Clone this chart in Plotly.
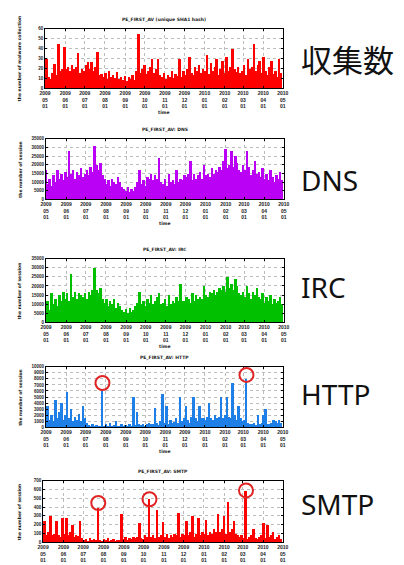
import plotly.graph_objects as go
import pandas as pd

# ---------------- data (one value every 3 days from 2009-05-01) ----------------
start_date = "2009-05-01"
step = "3D"

malware = [14, 30, 12, 10, 16, 25, 14, 45, 18, 20,
           42, 20, 22, 18, 24, 20, 22, 36, 16, 20,
           18, 24, 27, 20, 27, 18, 22, 37, 14, 15,
           12, 16, 10, 18, 12, 14, 11, 17, 10, 12,
           9, 13, 8, 12, 10, 14, 9, 18, 55, 16,
           20, 24, 15, 18, 22, 30, 16, 20, 30, 14,
           12, 16, 10, 14, 12, 18, 11, 15, 13, 30,
           12, 18, 14, 20, 32, 16, 14, 22, 18, 24,
           16, 20, 18, 34, 15, 26, 18, 22, 30, 14,
           20, 28, 16, 32, 18, 22, 40, 20, 17, 22,
           16, 18, 24, 14, 30, 20, 22, 45, 18, 24,
           28, 16, 32, 18, 14, 22, 28, 15, 18, 12,
           30, 16]

dns = [17000, 9000, 12000, 8000, 14000, 10000, 17000, 12000, 15000, 11000,
       16000, 13000, 28000, 15000, 17000, 12000, 16000, 14000, 18000, 13000,
       15000, 17000, 14000, 19000, 16000, 31000, 20000, 17000, 21000, 14000,
       12000, 9000, 11000, 8000, 12000, 10000, 9000, 13000, 10000, 7000,
       6000, 5000, 7000, 4500, 6000, 5000, 7000, 10000, 17000, 9000,
       11000, 8000, 13000, 12000, 15000, 11000, 14000, 12000, 24000, 10000,
       9000, 12000, 8000, 15000, 10000, 11000, 9000, 17000, 10000, 12000,
       11000, 14000, 13000, 15000, 22000, 11000, 15000, 12000, 14000, 16000,
       12000, 20000, 14000, 15000, 13000, 18000, 15000, 17000, 16000, 19000,
       17000, 22000, 29000, 18000, 20000, 28000, 19000, 25000, 21000, 17000,
       16000, 20000, 17000, 28000, 19000, 14000, 17000, 22000, 15000, 16000,
       13000, 18000, 12000, 15000, 11000, 17000, 13000, 10000, 14000, 12000,
       16000, 11000]

irc = [9000, 12000, 7000, 16000, 10000, 13000, 9000, 15000, 12000, 17000,
       13000, 16000, 12000, 27000, 14000, 17000, 13000, 16000, 15000, 14000,
       16000, 13000, 17000, 15000, 18000, 30000, 18000, 16000, 19000, 13000,
       11000, 13000, 9000, 12000, 10000, 13000, 8000, 11000, 9000, 7000,
       6000, 7500, 5000, 8000, 6000, 7000, 9000, 11000, 17000, 10000,
       12000, 9000, 13000, 11000, 15000, 10000, 12000, 14000, 16000, 10000,
       11000, 13000, 9000, 15000, 10000, 12000, 11000, 14000, 12000, 21000,
       12000, 12000, 14000, 13000, 11000, 16000, 12000, 15000, 13000, 14000,
       13000, 20000, 15000, 14000, 17000, 16000, 18000, 15000, 17000, 19000,
       18000, 20000, 17000, 25000, 19000, 21000, 18000, 24000, 20000, 16000,
       15000, 17000, 14000, 20000, 16000, 13000, 17000, 15000, 19000, 14000,
       13000, 16000, 11000, 14000, 12000, 15000, 10000, 13000, 11000, 12000,
       14000, 10000]

http = [1500, 3500, 1200, 2000, 1000, 4500, 1500, 2500, 4000, 1200,
        2000, 5800, 1500, 3000, 1000, 1800, 1200, 2200, 1000, 3500,
        1500, 800, 400, 300, 500, 200, 400, 300, 250, 6000,
        300, 500, 200, 800, 300, 400, 1000, 250, 300, 500,
        200, 400, 300, 600, 300, 5000, 400, 2500, 500, 400,
        600, 300, 500, 800, 600, 500, 3300, 700, 400, 1000,
        5500, 800, 3500, 600, 1200, 700, 900, 1500, 800, 5000,
        1000, 1500, 3500, 1200, 800, 1800, 5000, 1500, 1000, 3500,
        1500, 1500, 1200, 1800, 4000, 1500, 1200, 2000, 1500, 1800,
        5000, 1500, 2000, 5000, 1800, 1500, 7300, 2000, 1200, 3500,
        1500, 1000, 1200, 8000, 800, 600, 500, 700, 400, 2000,
        500, 800, 2000, 3000, 600, 500, 800, 1200, 1000, 800,
        1200, 700]

smtp = [100, 250, 80, 120, 300, 80, 100, 250, 90, 60,
        280, 100, 280, 80, 120, 200, 60, 90, 70, 250,
        50, 30, 40, 20, 50, 30, 40, 25, 390, 30,
        20, 40, 30, 50, 20, 30, 40, 20, 30, 25,
        320, 40, 60, 30, 50, 40, 60, 50, 60, 220,
        50, 40, 80, 60, 490, 60, 80, 50, 370, 60,
        80, 230, 60, 100, 50, 80, 60, 100, 80, 340,
        60, 100, 80, 250, 90, 120, 300, 60, 100, 280,
        80, 120, 100, 260, 80, 120, 100, 150, 120, 320,
        120, 150, 300, 100, 460, 120, 150, 250, 100, 80,
        60, 80, 50, 590, 40, 60, 80, 150, 50, 40,
        60, 80, 220, 50, 200, 60, 80, 120, 40, 60,
        80, 40]

# circled peaks (indices into the series) and vertical pixel offset of each circle
http_marks = [29, 103]
http_dy = [8, 4]
smtp_marks = [28, 54, 103]
smtp_dy = [5, 0, 0]

tick_dates = ["2009-05-01", "2009-06-01", "2009-07-01", "2009-08-01", "2009-09-01",
              "2009-10-01", "2009-11-01", "2009-12-01", "2010-01-01", "2010-02-01",
              "2010-03-01", "2010-04-01", "2010-05-01"]
tick_labels = ["2009<br>05<br>01", "2009<br>06<br>01", "2009<br>07<br>01", "2009<br>08<br>01",
               "2009<br>09<br>01", "2009<br>10<br>01", "2009<br>11<br>01", "2009<br>12<br>01",
               "2010<br>01<br>01", "2010<br>02<br>01", "2010<br>03<br>01", "2010<br>04<br>01",
               "2010<br>05<br>01"]

titles = ["PE_FIRST_AV (unique SHA1 hash)", "PE_FIRST_AV: DNS", "PE_FIRST_AV: IRC",
          "PE_FIRST_AV: HTTP", "PE_FIRST_AV: SMTP"]
ytitles = ["the number of malware collection", "the number of session", "the number of session",
           "the number of session", "the number of session"]
side_labels = ["収集数", "DNS", "IRC", "HTTP", "SMTP"]
series = [malware, dns, irc, http, smtp]
y_max = [60, 35000, 35000, 10000, 700]
y_step = [10, 5000, 5000, 1000, 100]

# ---------------- layout/style ----------------
W, H = 404, 565
OFF = 8  # the page body adds an 8px margin; compensate so positions match the window
colors = ["#FF0000", "#BA00F5", "#00C000", "#1E7FE6", "#FF0000"]
# plot boxes in window pixels: (left, right, top, bottom)
boxes = [(40, 285, 27, 87), (41, 286, 138, 199), (41, 286, 259, 323),
         (41, 285, 368, 429), (38, 285, 483, 545)]
label_y = [57, 180, 287, 395, 506]


def px(x):
    return (x - OFF) / W


def py(y):
    return 1 - (y - OFF) / H


dates = pd.date_range(start_date, periods=len(malware), freq=step)

fig = go.Figure()
tiny = dict(family="DejaVu Sans", size=4.5, color="#222", weight="bold")
tickf = dict(family="Liberation Sans", size=5, color="#222", weight="bold")

for k in range(5):
    n = k + 1
    xa = "x" if n == 1 else f"x{n}"
    ya = "y" if n == 1 else f"y{n}"
    fig.add_trace(go.Bar(x=dates, y=series[k], xaxis=xa, yaxis=ya,
                         marker=dict(color=colors[k], line=dict(width=0)),
                         showlegend=False))
    l, r, t, b = boxes[k]
    axis_common = dict(showline=True, linecolor="#000", linewidth=1, mirror="ticks",
                       ticks="inside", ticklen=2, tickcolor="#000",
                       showgrid=True, gridcolor="#BDBDBD", gridwidth=0.6, griddash="dot",
                       zeroline=False)
    fig.layout[f"xaxis{'' if n == 1 else n}"] = dict(
        axis_common, domain=[px(l), px(r)], anchor=ya, type="date",
        range=["2009-05-01", "2010-05-01"], tickvals=tick_dates, ticktext=tick_labels,
        tickfont=tickf)
    fig.layout[f"yaxis{'' if n == 1 else n}"] = dict(
        axis_common, domain=[py(b), py(t)], anchor=xa,
        range=[0, y_max[k]], tick0=0, dtick=y_step[k], tickformat="d",
        tickfont=dict(tickf, size=4.5))
    # title above the plot
    fig.add_annotation(text=titles[k], xref="paper", yref="paper",
                       x=px((l + r) / 2), y=py(t - 9), showarrow=False,
                       font=tiny, xanchor="center", yanchor="middle")
    # rotated y title
    fig.add_annotation(text=ytitles[k], xref="paper", yref="paper",
                       x=px(14), y=py((t + b) / 2), showarrow=False, textangle=-90,
                       font=tiny, xanchor="center", yanchor="middle")
    # "time" axis title (not for last panel, which is cut off)
    if k < 4:
        fig.add_annotation(text="time", xref="paper", yref="paper",
                           x=px((l + r) / 2), y=py(b + 24), showarrow=False,
                           font=tiny, xanchor="center", yanchor="middle")
    # big label to the right
    font = dict(family="Noto Sans CJK JP", size=31, color="#111") if k == 0 else \
        dict(family="Noto Sans", size=28, color="#111")
    fig.add_annotation(text=side_labels[k], xref="paper", yref="paper",
                       x=px(302), y=py(label_y[k]), showarrow=False, font=font,
                       xanchor="left", yanchor="middle")

# red circles around peaks
for n, vals, marks, dys in [(4, http, http_marks, http_dy), (5, smtp, smtp_marks, smtp_dy)]:
    for i, dy in zip(marks, dys):
        fig.add_shape(type="circle", xref=f"x{n}", yref=f"y{n}",
                      xsizemode="pixel", ysizemode="pixel",
                      xanchor=dates[i], yanchor=vals[i],
                      x0=-7, x1=7, y0=dy - 7, y1=dy + 7,
                      line=dict(color="#E02424", width=2))

fig.update_layout(width=W, height=H, margin=dict(l=0, r=0, t=0, b=0),
                  paper_bgcolor="white", plot_bgcolor="white",
                  bargap=0, barmode="overlay", showlegend=False)

fig.write_html("out.html")
